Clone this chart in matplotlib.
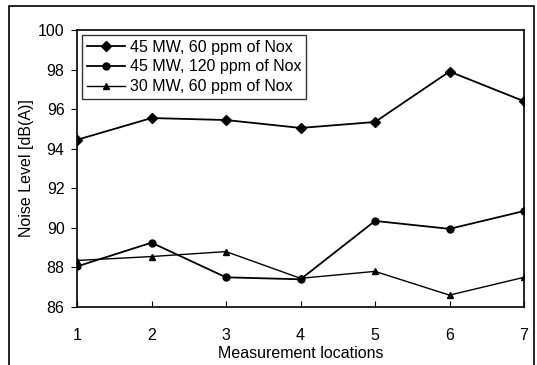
import matplotlib.pyplot as plt
from matplotlib.patches import Rectangle

plt.rcParams['font.family'] = ['Liberation Sans', 'DejaVu Sans']

locations = [1, 2, 3, 4, 5, 6, 7]
mw45_60 = [94.45, 95.55, 95.45, 95.05, 95.35, 97.9, 96.4]
mw45_120 = [88.05, 89.25, 87.5, 87.4, 90.35, 89.95, 90.85]
mw30_60 = [88.35, 88.55, 88.8, 87.45, 87.8, 86.6, 87.5]

fs = 11.5

fig = plt.figure(figsize=(5.37, 3.65), dpi=100)
ax = fig.add_axes([77 / 537, 1 - 307 / 365, 447 / 537, 277 / 365])

ax.plot(locations, mw45_60, color='black', marker='D', markersize=5.5, lw=1.3,
        label='45 MW, 60 ppm of Nox')
ax.plot(locations, mw45_120, color='black', marker='o', markersize=5, lw=1.3,
        label='45 MW, 120 ppm of Nox')
ax.plot(locations, mw30_60, color='black', marker='^', markersize=5, lw=1.0,
        label='30 MW, 60 ppm of Nox')

ax.set_xlim(1, 7)
ax.set_ylim(86, 100)
ax.set_xticks(locations)
ax.set_yticks(range(86, 101, 2))
ax.tick_params(axis='x', direction='in', pad=15, labelsize=fs, length=4)
ax.tick_params(axis='y', direction='out', labelsize=fs, length=4, pad=5)
for s in ax.spines.values():
    s.set_linewidth(1.2)

ax.set_xlabel('Measurement locations', fontsize=fs, labelpad=2)
ax.set_ylabel('Noise Level [dB(A)]', fontsize=fs, labelpad=3)

leg = ax.legend(loc='upper left', fontsize=fs, frameon=True, fancybox=False,
                edgecolor='black', borderpad=0.3, labelspacing=0.3,
                handlelength=2.4, handletextpad=0.3, borderaxespad=0.3)
leg.get_frame().set_linewidth(1.0)

fig.patches.append(Rectangle((9 / 537, -0.05), 525 / 537, 1.05 - 6 / 365,
                             transform=fig.transFigure, fill=False,
                             edgecolor='black', lw=1.2))

fig.savefig('out.png', dpi=100)
